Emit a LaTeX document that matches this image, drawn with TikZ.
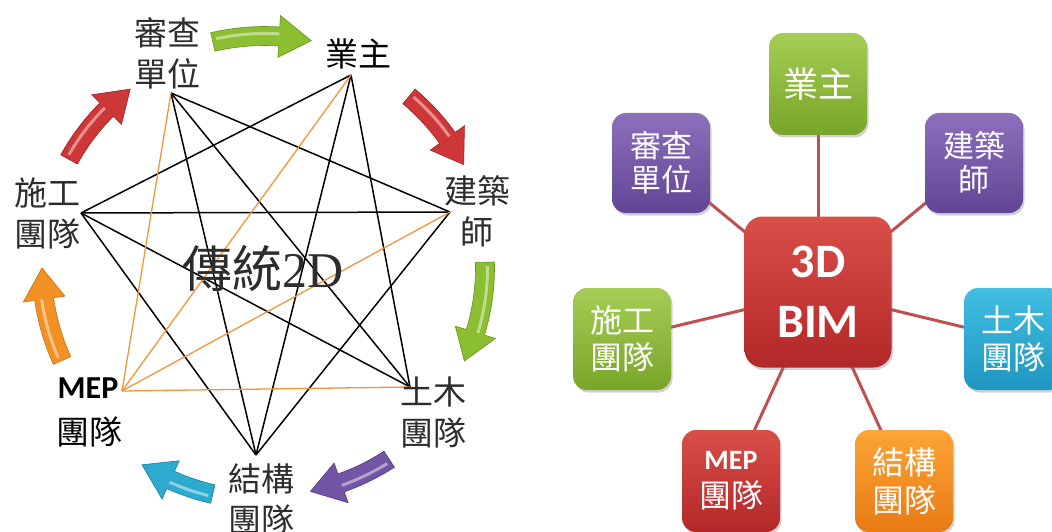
\documentclass[tikz,border=0pt]{standalone}
\usepackage{fontspec}
\usetikzlibrary{shadows}
\newfontfamily\cjk{Noto Sans CJK TC}
\newfontfamily\calfont{Carlito}
\newfontfamily\twodfont{Liberation Serif}
\definecolor{txtgray}{RGB}{45,45,45}
\definecolor{lorange}{RGB}{242,150,60}
\definecolor{linkred}{RGB}{192,80,80}
\definecolor{agreen}{RGB}{140,190,50}\definecolor{agreenD}{RGB}{100,150,30}
\definecolor{ared}{RGB}{205,55,55}\definecolor{aredD}{RGB}{160,30,30}
\definecolor{apurple}{RGB}{115,85,165}\definecolor{apurpleD}{RGB}{80,55,125}
\definecolor{acyan}{RGB}{45,170,205}\definecolor{acyanD}{RGB}{25,130,165}
\definecolor{aorange}{RGB}{242,145,35}\definecolor{aorangeD}{RGB}{200,110,15}
\definecolor{bgreenT}{RGB}{165,205,85}\definecolor{bgreenB}{RGB}{120,165,40}
\definecolor{bpurpleT}{RGB}{140,112,188}\definecolor{bpurpleB}{RGB}{98,70,150}
\definecolor{bredT}{RGB}{218,78,72}\definecolor{bredB}{RGB}{178,40,40}
\definecolor{bcyanT}{RGB}{65,190,225}\definecolor{bcyanB}{RGB}{30,150,192}
\definecolor{borangeT}{RGB}{252,165,55}\definecolor{borangeB}{RGB}{232,122,20}
\newcommand{\bendarrow}[6]{%
  \begin{scope}[shift={#1}]
  \pgfmathsetmacro\bAhb{#3-8}
  \pgfmathsetmacro\bAro{#4+9.5}
  \pgfmathsetmacro\bAri{#4-9.5}
  \pgfmathsetmacro\bArh{#4+21}
  \pgfmathsetmacro\bArl{#4-21}
  \pgfmathsetmacro\bArm{#4+2.5}
  \pgfmathsetmacro\bAst{#2+1}
  \fill[#5, draw=#6, line width=0.6pt] (#2:\bAro) arc[start angle=#2, end angle=\bAhb, radius=\bAro]
     -- (\bAhb:\bArh) -- (#3:#4) -- (\bAhb:\bArl) -- (\bAhb:\bAri)
     arc[start angle=\bAhb, end angle=#2, radius=\bAri] -- cycle;
  \draw[white, opacity=0.45, line width=3pt] (\bAst:\bArm) arc[start angle=\bAst, end angle=\bAhb, radius=\bArm];
  \end{scope}}
\tikzset{
  ltext/.style={align=center, text=txtgray, font=\cjk\fontsize{33}{41}\selectfont, inner sep=0pt},
  blk/.style={black, line width=1.5pt},
  org/.style={lorange, line width=1.3pt},
  box/.style={rounded corners=14pt, minimum width=98pt, minimum height=102pt, align=center,
    text=white, font=\cjk\fontsize{31}{34}\selectfont, drop shadow={opacity=0.35, shadow xshift=1.5pt, shadow yshift=-2.5pt}, inner sep=0pt},
  link/.style={linkred, line width=3pt}
}
\begin{document}
\begin{tikzpicture}[x=1pt,y=-1pt]
\clip (0,0) rectangle (1052,532);
\fill[white] (0,0) rectangle (1052,532);
% ---------- left diagram ----------
\coordinate (pShen) at (171,93);
\coordinate (pYe) at (351,75);
\coordinate (pJian) at (450,212);
\coordinate (pShi) at (81,213);
\coordinate (pMEP) at (122,391);
\coordinate (pTu) at (410,387);
\coordinate (pJie) at (256,455);
\draw[blk] (pShen) -- (pJian);
\draw[blk] (pShen) -- (pTu);
\draw[blk] (pShen) -- (pJie);
\draw[blk] (pYe) -- (pShi);
\draw[blk] (pYe) -- (pJie);
\draw[blk] (pYe) -- (pTu);
\draw[blk] (pJian) -- (pShi);
\draw[blk] (pJian) -- (pJie);
\draw[blk] (pShi) -- (pTu);
\draw[blk] (pShi) -- (pJie);
\draw[org] (pMEP) -- (pShen);
\draw[org] (pMEP) -- (pYe);
\draw[org] (pMEP) -- (pJian);
\draw[org] (pMEP) -- (pTu);
\node[ltext] (tShen) at (167,53) {審查\\單位};
\node[ltext, text=black] (tYe) at (358,54) {業主};
\node[ltext] (tJian) at (477,211) {建築\\師};
\node[ltext] (tShi) at (47,213) {施工\\團隊};
\node[ltext] (tTu) at (433,412) {土木\\團隊};
\node[ltext] (tJie) at (261,499) {結構\\團隊};
\node[inner sep=0pt, text=black, font=\calfont\bfseries\fontsize{32}{34}\selectfont] (tMEP) at (88,388) {MEP};
\node[inner sep=0pt, text=black, font=\cjk\fontsize{33}{41}\selectfont] (tMEP2) at (89,432) {團隊};
\node[inner sep=0pt, text=txtgray] (title) at (263,268) {{\cjk\fontsize{50}{52}\selectfont 傳統}{\twodfont\fontsize{50}{52}\selectfont 2D}};
% curved arrows
\bendarrow{(265,268)}{-103}{-78.5}{232}{agreen}{agreenD}
\bendarrow{(265,268)}{-50}{-27.5}{224}{ared}{aredD}
\bendarrow{(265,268)}{-1.5}{25}{220}{agreen}{agreenD}
\bendarrow{(265,268)}{57}{78.5}{228}{apurple}{apurpleD}
\bendarrow{(265,268)}{103}{122}{232}{acyan}{acyanD}
\bendarrow{(265,268)}{155.5}{180}{223}{aorange}{aorangeD}
\bendarrow{(265,268)}{209}{233}{224}{ared}{aredD}
% ---------- right diagram ----------
\coordinate (cBIM) at (818,292);
\coordinate (cYe) at (818,84);
\coordinate (cShen) at (661,163);
\coordinate (cJian) at (974,163);
\coordinate (cShi) at (622,339);
\coordinate (cTu) at (1013,339);
\coordinate (cMEP) at (731,481);
\coordinate (cJie) at (904,481);
\foreach \t in {cYe,cShen,cJian,cShi,cTu,cMEP,cJie} \draw[link] (cBIM) -- (\t);
\node[box, top color=bgreenT, bottom color=bgreenB, font=\cjk\fontsize{35}{38}\selectfont] (bYe) at (cYe) {業主};
\node[box, top color=bpurpleT, bottom color=bpurpleB, minimum height=100pt] (bShen) at (cShen) {審查\\單位};
\node[box, top color=bpurpleT, bottom color=bpurpleB, minimum height=100pt] (bJian) at (cJian) {建築\\師};
\node[box, top color=bgreenT, bottom color=bgreenB, font=\cjk\fontsize{32}{37}\selectfont] (bShi) at (cShi) {施工\\團隊};
\node[box, top color=bcyanT, bottom color=bcyanB, font=\cjk\fontsize{32}{37}\selectfont] (bTu) at (cTu) {土木\\團隊};
\node[box, top color=bredT, bottom color=bredB, font=\cjk\fontsize{32}{38}\selectfont] (bMEP) at (cMEP) {{\calfont\bfseries\fontsize{28}{30}\selectfont MEP}\\團隊};
\node[box, top color=borangeT, bottom color=borangeB, font=\cjk\fontsize{32}{38}\selectfont] (bJie) at (cJie) {結構\\團隊};
\node[box, top color=bredT, bottom color=bredB, minimum width=147pt, minimum height=151pt, rounded corners=18pt,
  font=\calfont\bfseries\fontsize{48}{60}\selectfont] (bBIM) at (cBIM) {3D\\BIM};
\end{tikzpicture}
\end{document}
